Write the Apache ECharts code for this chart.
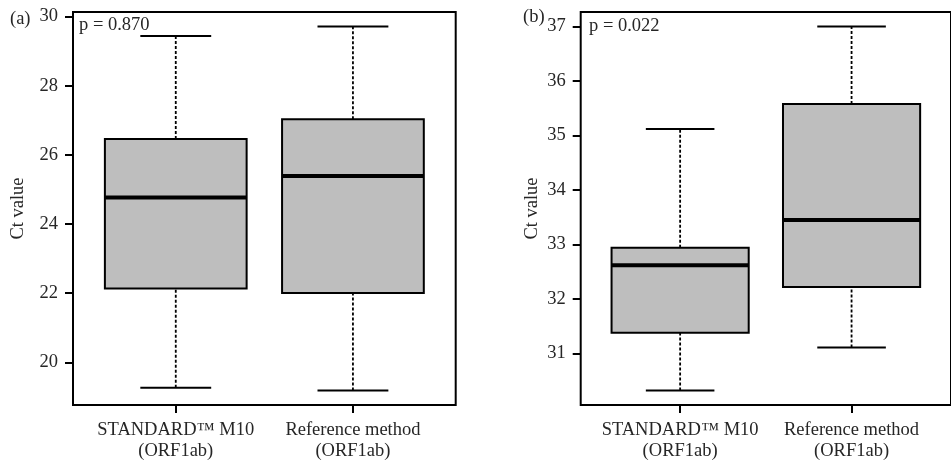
<!DOCTYPE html>
<html>
<head>
<meta charset="utf-8">
<script src="https://cdn.jsdelivr.net/npm/echarts@6/dist/echarts.min.js"></script>
<style>
html,body{margin:0;padding:0;background:#fff;}
#chart{width:951px;height:462px;}
</style>
</head>
<body>
<div id="chart"></div>
<script>
// ---- data ----
const categories = ['STANDARD\u2122 M10\n(ORF1ab)', 'Reference method\n(ORF1ab)'];
const categoryPositions = [1, 2];
// [min, Q1, median, Q3, max]
const panelA = [[19.27, 22.14, 24.77, 26.46, 29.44], [19.19, 22.01, 25.39, 27.03, 29.71]];
const panelB = [[30.32, 31.38, 32.62, 32.94, 35.12], [31.11, 32.22, 33.45, 35.58, 37.00]];
const ticksA = [20, 22, 24, 26, 28, 30];
const ticksB = [31, 32, 33, 34, 35, 36, 37];
const pLabels = ['p = 0.870', 'p = 0.022'];
const panelLabels = ['(a)', '(b)'];
const yName = 'Ct value';

// ---- helpers ----
const FONT = 'Liberation Serif, Times New Roman, serif';
const FS = 18.5;
const TXT = '#262626';

function range(data) {
  let lo = Infinity, hi = -Infinity;
  data.forEach(r => { lo = Math.min(lo, r[0]); hi = Math.max(hi, r[4]); });
  const pad = (hi - lo) * 0.04;
  return [lo - pad, hi + pad];
}
const rA = range(panelA), rB = range(panelB);

function boxSeriesData(panel) {
  return panel.map((r, i) => [categoryPositions[i]].concat(r));
}

function renderBox(params, api) {
  const x = api.value(0);
  const mn = api.value(1), q1 = api.value(2), md = api.value(3), q3 = api.value(4), mx = api.value(5);
  const c = (xx, yy) => api.coord([xx, yy]);
  const pMin = c(x, mn), pQ1 = c(x, q1), pMd = c(x, md), pQ3 = c(x, q3), pMx = c(x, mx);
  const bl = c(x - 0.4, q1)[0], br = c(x + 0.4, q1)[0];
  const cl = c(x - 0.2, q1)[0], cr = c(x + 0.2, q1)[0];
  const dash = {stroke: '#000', lineWidth: 1.8, lineDash: [3, 2]};
  const solid = {stroke: '#000', lineWidth: 2};
  return {
    type: 'group',
    children: [
      {type: 'line', shape: {x1: pQ3[0], y1: pQ3[1], x2: pMx[0], y2: pMx[1]}, style: dash},
      {type: 'line', shape: {x1: pMin[0], y1: pMin[1], x2: pQ1[0], y2: pQ1[1]}, style: dash},
      {type: 'line', shape: {x1: cl, y1: pMx[1], x2: cr, y2: pMx[1]}, style: solid},
      {type: 'line', shape: {x1: cl, y1: pMin[1], x2: cr, y2: pMin[1]}, style: solid},
      {type: 'rect', shape: {x: bl, y: pQ3[1], width: br - bl, height: pQ1[1] - pQ3[1]},
        style: {fill: '#bebebe', stroke: '#000', lineWidth: 2}},
      {type: 'line', shape: {x1: bl, y1: pMd[1], x2: br, y2: pMd[1]}, style: {stroke: '#000', lineWidth: 4}}
    ]
  };
}

function xAxisCfg(gi) {
  return {
    type: 'value', gridIndex: gi, min: 0.42, max: 2.58,
    axisLine: {show: false},
    splitLine: {show: false},
    axisTick: {show: true, customValues: categoryPositions, length: 8, lineStyle: {color: '#000', width: 2}},
    axisLabel: {
      customValues: categoryPositions,
      formatter: v => categories[Math.round(v) - 1],
      fontFamily: FONT, fontSize: FS, color: TXT, lineHeight: 20.5, margin: 15
    }
  };
}
function yAxisCfg(gi, r, ticks) {
  return {
    type: 'value', gridIndex: gi, min: r[0], max: r[1],
    axisLine: {show: false},
    splitLine: {show: false},
    axisTick: {show: true, customValues: ticks, length: 8, lineStyle: {color: '#000', width: 2}},
    axisLabel: {customValues: ticks, formatter: v => String(Math.round(v)),
      fontFamily: FONT, fontSize: FS, color: TXT, margin: 15}
  };
}

const chart = echarts.init(document.getElementById('chart'));
const textStyle = (t, x, y, align) => ({
  type: 'text', x: x, y: y,
  style: {text: t, font: FS + 'px ' + FONT, fill: TXT, textAlign: align || 'left', textVerticalAlign: 'middle'}
});
chart.setOption({
  animation: false,
  backgroundColor: '#fff',
  grid: [
    {left: 73, top: 12, width: 382.7, height: 393, show: true, borderColor: '#000', borderWidth: 2, backgroundColor: 'transparent'},
    {left: 580.7, top: 12, width: 382.5, height: 393, show: true, borderColor: '#000', borderWidth: 2, backgroundColor: 'transparent'}
  ],
  xAxis: [xAxisCfg(0), xAxisCfg(1)],
  yAxis: [yAxisCfg(0, rA, ticksA), yAxisCfg(1, rB, ticksB)],
  series: [
    {type: 'custom', xAxisIndex: 0, yAxisIndex: 0, data: boxSeriesData(panelA), renderItem: renderBox,
      encode: {x: 0, y: [1, 2, 3, 4, 5]}},
    {type: 'custom', xAxisIndex: 1, yAxisIndex: 1, data: boxSeriesData(panelB), renderItem: renderBox,
      encode: {x: 0, y: [1, 2, 3, 4, 5]}}
  ],
  graphic: [
    textStyle(panelLabels[0], 10, 19),
    textStyle(panelLabels[1], 523, 17),
    textStyle(pLabels[0], 79, 25),
    textStyle(pLabels[1], 589, 26),
    Object.assign(textStyle(yName, 18.3, 208.5, 'center'), {rotation: Math.PI / 2}),
    Object.assign(textStyle(yName, 531.7, 208.5, 'center'), {rotation: Math.PI / 2})
  ]
});
</script>
</body>
</html>
